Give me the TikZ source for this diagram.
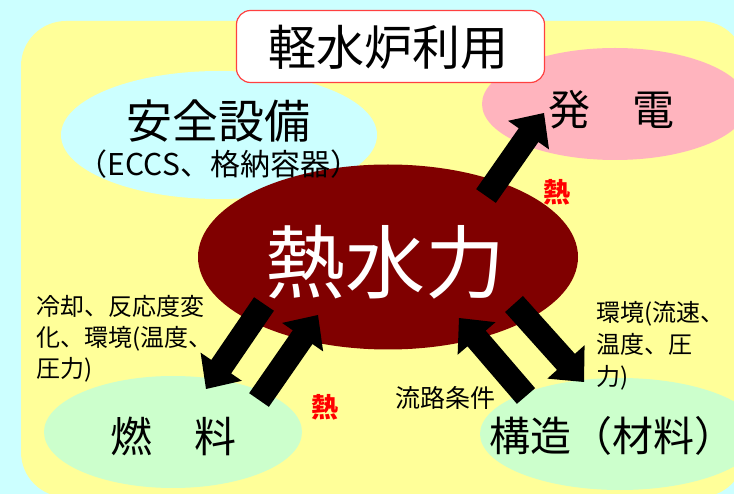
\documentclass[tikz,border=0pt]{standalone}
\usepackage{fontspec}
\setmainfont{Noto Sans CJK JP}
\usetikzlibrary{calc,shapes.geometric}
\definecolor{bgcyan}{HTML}{CCFFFF}
\definecolor{yel}{HTML}{FFFF99}
\definecolor{pinkish}{HTML}{FFB4BE}
\definecolor{darkred}{HTML}{800000}
\definecolor{lgreen}{HTML}{CCFFCC}
\definecolor{titlered}{HTML}{FF4040}
\newcommand\fsz[1]{\fontsize{#1}{#1}\selectfont}
\newcommand\blockarrow[2]{%
  \coordinate (hb) at ($(#2)!27pt!(#1)$);
  \fill[black] ($(#1)!12pt!90:(#2)$) -- ($(hb)!12pt!-90:(#1)$) -- ($(hb)!25pt!-90:(#1)$) -- (#2)
     -- ($(hb)!25pt!90:(#1)$) -- ($(hb)!12pt!90:(#1)$) -- ($(#1)!12pt!-90:(#2)$) -- cycle;}
\tikzset{
  blob/.style={ellipse, inner sep=0pt, draw=none},
  lbl/.style={inner sep=0pt, text=black},
  heat/.style={inner sep=0pt, text=red, font=\fsz{27}\bfseries},
}
\begin{document}
\begin{tikzpicture}[x=1pt,y=-1pt]
\useasboundingbox (0,0) rectangle (734,494);
\fill[bgcyan] (0,0) rectangle (734,494);
\begin{scope}
  \clip (0,0) rectangle (734,494);
  \fill[yel, rounded corners=45pt] (21,21) rectangle (745,497);
  \node[blob, fill=bgcyan, minimum width=316pt, minimum height=128pt] (safety) at (219,135) {};
  \node[blob, fill=pinkish, minimum width=266pt, minimum height=112pt] (power) at (615,104) {};
  \node[blob, fill=darkred, minimum width=380pt, minimum height=185pt] (core) at (388,257) {};
  \node[blob, fill=lgreen, minimum width=258pt, minimum height=112pt] (fuel) at (173,432) {};
  \node[blob, fill=lgreen, minimum width=280pt, minimum height=112pt] (struct) at (620,434) {};
\end{scope}
\node[draw=titlered, line width=1.2pt, fill=white, rounded corners=14pt, minimum width=308pt, minimum height=72pt, inner sep=0pt] (title) at (390.5,46.5) {};
\node[lbl, font=\fsz{48}] (titletext) at (388,47) {軽水炉利用};
\node[lbl, font=\fsz{46}] (safetytext) at (218,121) {安全設備};
\node[lbl, font=\fsz{30}] (safetysub) at (219,164) {（ECCS、格納容器）};
\node[lbl, font=\fsz{42}] (powertext) at (611,110) {発　電};
\node[lbl, text=white, font=\fsz{80}] (coretext) at (385,262) {熱水力};
\node[lbl, font=\fsz{42}] (fueltext) at (173,436) {燃　料};
\node[lbl, font=\fsz{41}] (structtext) at (612,436) {構造（材料）};
% arrows
\coordinate (a1s) at (486,196); \coordinate (a1e) at (544,113);
\coordinate (a2s) at (264,304); \coordinate (a2e) at (206,389);
\coordinate (a3s) at (259,400); \coordinate (a3e) at (318,315);
\coordinate (a4s) at (526,396); \coordinate (a4e) at (459,318);
\coordinate (a5s) at (514,304); \coordinate (a5e) at (584,382);
\blockarrow{a1s}{a1e}
\blockarrow{a2s}{a2e}
\blockarrow{a3s}{a3e}
\blockarrow{a4s}{a4e}
\blockarrow{a5s}{a5e}
% labels
\node[heat] (heat1) at (557,192) {熱};
\node[heat] (heat2) at (325,407) {熱};
\node[lbl, font=\fontsize{24}{31}\selectfont, align=left, anchor=west] (leftlbl) at (36,339) {冷却、反応度変\\化、環境(温度、\\圧力)};
\node[lbl, font=\fontsize{24}{32}\selectfont, align=left, anchor=west] (rightlbl) at (596,346) {環境(流速、\\温度、圧\\力)};
\node[lbl, font=\fsz{25}] (flowlbl) at (445,398) {流路条件};
\end{tikzpicture}
\end{document}
